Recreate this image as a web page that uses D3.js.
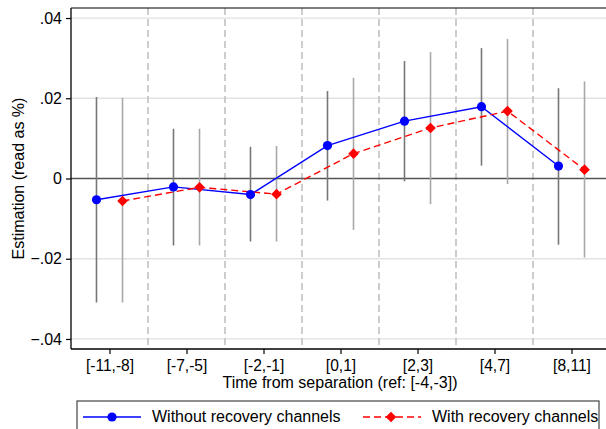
<!DOCTYPE html>
<html>
<head>
<meta charset="utf-8">
<script src="https://cdn.jsdelivr.net/npm/d3@7"></script>
<style>
  body { margin: 0; background: #fff; }
  svg text { font-family: "Liberation Sans", Arial, sans-serif; fill: #000; }
</style>
</head>
<body>
<div id="chart"></div>
<script>
// categories on the x axis
const categories = ["[-11,-8]", "[-7,-5]", "[-2,-1]", "[0,1]", "[2,3]", "[4,7]", "[8,11]"];

// without recovery channels (blue)
const estA = [-0.0053, -0.0021, -0.0040, 0.0082, 0.0143, 0.0179, 0.0031];
const loA  = [-0.0309, -0.0167, -0.0157, -0.0055, -0.0007, 0.0032, -0.0165];
const hiA  = [0.0203, 0.0124, 0.0079, 0.0218, 0.0293, 0.0325, 0.0225];

// with recovery channels (red)
const estB = [-0.0056, -0.0022, -0.0039, 0.0062, 0.0126, 0.0168, 0.0022];
const loB  = [-0.0309, -0.0167, -0.0157, -0.0128, -0.0064, -0.0014, -0.0197];
const hiB  = [0.0201, 0.0124, 0.0081, 0.0251, 0.0315, 0.0348, 0.0242];

const yTicks = [-0.04, -0.02, 0, 0.02, 0.04];
const seriesNames = ["Without recovery channels", "With recovery channels"];

const width = 606, height = 429;
const margin = {top: 8, right: -4, bottom: 80, left: 71};
const innerW = width - margin.left - margin.right;
const innerH = height - margin.top - margin.bottom;

const svg = d3.select("#chart").append("svg")
    .attr("width", width)
    .attr("height", height);

const g = svg.append("g")
    .attr("transform", "translate(" + margin.left + "," + margin.top + ")");

const x = d3.scaleLinear().domain([-0.5, categories.length - 0.5]).range([0, innerW]);
const y = d3.scaleLinear().domain([-0.0425, 0.0425]).range([innerH, 0]);
const off = 0.169;

// horizontal grid
g.selectAll(".grid").data(yTicks.filter(d => d !== 0)).enter()
    .append("line")
    .attr("x1", 0).attr("x2", innerW)
    .attr("y1", d => y(d)).attr("y2", d => y(d))
    .attr("stroke", "#e2e2e2").attr("stroke-width", 1.3);

// vertical dashed separators
g.selectAll(".sep").data(d3.range(categories.length - 1)).enter()
    .append("line")
    .attr("x1", d => x(d + 0.5)).attr("x2", d => x(d + 0.5))
    .attr("y1", 0).attr("y2", innerH)
    .attr("stroke", "#bdbdbd").attr("stroke-width", 1.5)
    .attr("stroke-dasharray", "7,4");

// zero line
g.append("line")
    .attr("x1", 0).attr("x2", innerW)
    .attr("y1", y(0)).attr("y2", y(0))
    .attr("stroke", "#555").attr("stroke-width", 1.5);

// confidence intervals
g.selectAll(".ciA").data(categories).enter()
    .append("line")
    .attr("x1", (d, i) => x(i - off)).attr("x2", (d, i) => x(i - off))
    .attr("y1", (d, i) => y(loA[i])).attr("y2", (d, i) => y(hiA[i]))
    .attr("stroke", "#777").attr("stroke-width", 1.6);

g.selectAll(".ciB").data(categories).enter()
    .append("line")
    .attr("x1", (d, i) => x(i + off)).attr("x2", (d, i) => x(i + off))
    .attr("y1", (d, i) => y(loB[i])).attr("y2", (d, i) => y(hiB[i]))
    .attr("stroke", "#a8a8a8").attr("stroke-width", 1.6);

// lines
const lineA = d3.line().x((d, i) => x(i - off)).y(d => y(d));
const lineB = d3.line().x((d, i) => x(i + off)).y(d => y(d));

g.append("path").datum(estA).attr("d", lineA)
    .attr("fill", "none").attr("stroke", "#0000ff").attr("stroke-width", 1.4);
g.append("path").datum(estB).attr("d", lineB)
    .attr("fill", "none").attr("stroke", "#ff0000").attr("stroke-width", 1.4)
    .attr("stroke-dasharray", "7,4");

// markers
g.selectAll(".ptA").data(estA).enter()
    .append("circle")
    .attr("cx", (d, i) => x(i - off)).attr("cy", d => y(d))
    .attr("r", 4.6).attr("fill", "#0000ff");

const diamond = d3.symbol().type(d3.symbolDiamond2).size(72);
g.selectAll(".ptB").data(estB).enter()
    .append("path")
    .attr("d", diamond)
    .attr("transform", (d, i) => "translate(" + x(i + off) + "," + y(d) + ")")
    .attr("fill", "#ff0000");

// frame: top line
g.append("line").attr("x1", 0).attr("x2", innerW).attr("y1", 0).attr("y2", 0)
    .attr("stroke", "#000").attr("stroke-width", 1.2);

// axes
const yAxisG = g.append("g").call(d3.axisLeft(y).tickValues(yTicks)
        .tickFormat(d => d === 0 ? "0" : d3.format(".2f")(d).replace("0.", "."))
        .tickSize(5).tickPadding(4));
yAxisG.select(".domain").attr("d", "M0,0V" + innerH).attr("stroke-width", 1.3);
yAxisG.selectAll("text").style("font-size", "16px");
yAxisG.selectAll(".tick line").attr("stroke-width", 1.2);

const xAxisG = g.append("g")
    .attr("transform", "translate(0," + innerH + ")")
    .call(d3.axisBottom(x).tickValues(d3.range(categories.length))
        .tickFormat(i => categories[i]).tickSize(5).tickPadding(6));
xAxisG.select(".domain").attr("d", "M0,0H" + innerW).attr("stroke-width", 1.3);
xAxisG.selectAll("text").style("font-size", "15.6px");
xAxisG.selectAll(".tick line").attr("stroke-width", 1.2);

// axis titles
svg.append("text")
    .attr("x", 340).attr("y", 388)
    .attr("text-anchor", "middle")
    .style("font-size", "16px")
    .text("Time from separation (ref: [-4,-3])");

svg.append("text")
    .attr("transform", "translate(24,178.5) rotate(-90)")
    .attr("text-anchor", "middle")
    .style("font-size", "16px")
    .text("Estimation (read as %)");

// legend
const leg = svg.append("g");
leg.append("rect")
    .attr("x", 77).attr("y", 401).attr("width", 522).attr("height", 40)
    .attr("fill", "#fff").attr("stroke", "#444").attr("stroke-width", 1.2);

const legItems = [
    {name: seriesNames[0], color: "#0000ff", dash: null, x0: 83, sym: "circle"},
    {name: seriesNames[1], color: "#ff0000", dash: "7,4", x0: 363, sym: "diamond"}
];
legItems.forEach(it => {
    leg.append("line")
        .attr("x1", it.x0).attr("x2", it.x0 + 58)
        .attr("y1", 417).attr("y2", 417)
        .attr("stroke", it.color).attr("stroke-width", 1.4)
        .attr("stroke-dasharray", it.dash);
    if (it.sym === "circle") {
        leg.append("circle").attr("cx", it.x0 + 29).attr("cy", 417).attr("r", 4.6).attr("fill", it.color);
    } else {
        leg.append("path").attr("d", diamond)
            .attr("transform", "translate(" + (it.x0 + 28) + ",417)").attr("fill", it.color);
    }
    leg.append("text")
        .attr("x", it.x0 + 69).attr("y", 422)
        .style("font-size", "16px")
        .text(it.name);
});
</script>
</body>
</html>
